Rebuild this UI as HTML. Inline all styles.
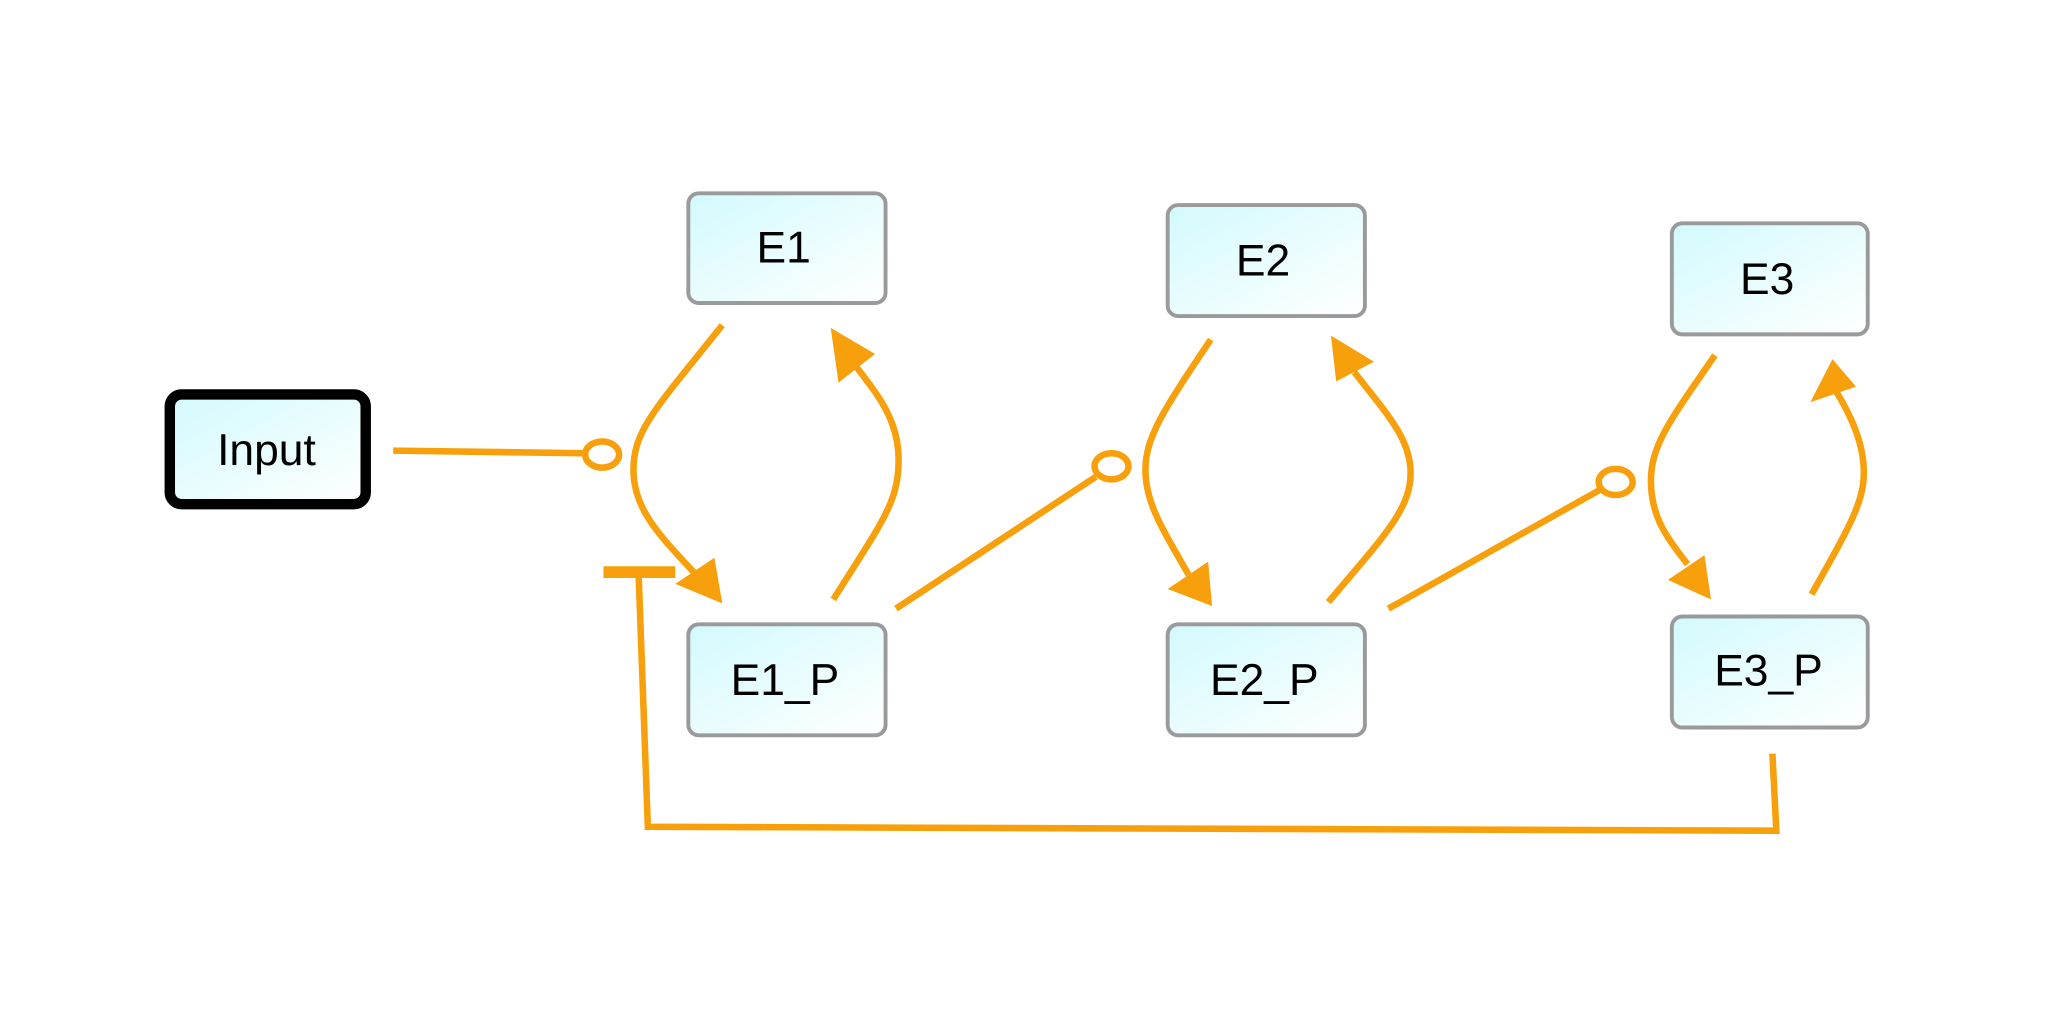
<!DOCTYPE html>
<html><head><meta charset="utf-8"><style>
html,body{margin:0;padding:0;background:#fff;}
svg{display:block;}
text{font-family:"Liberation Sans",sans-serif;font-size:34px;fill:#000;}
</style></head><body>
<svg width="2048" height="1024" viewBox="0 0 1568 784" xmlns="http://www.w3.org/2000/svg">
<defs>
<linearGradient id="g" x1="0" y1="0" x2="1" y2="1">
<stop offset="0" stop-color="#d2fafd"/><stop offset="1" stop-color="#ffffff"/>
</linearGradient>
</defs>
<rect width="1568" height="784" fill="#fff"/>
<g fill="url(#g)" stroke="#9a9a9a" stroke-width="3">
<rect x="527" y="148" width="151" height="84" rx="8"/>
<rect x="894" y="157" width="151" height="85" rx="8"/>
<rect x="1280" y="171" width="150" height="85" rx="8"/>
<rect x="527" y="478" width="151" height="85" rx="8"/>
<rect x="894" y="478" width="151" height="85" rx="8"/>
<rect x="1280" y="472" width="150" height="85" rx="8"/>
</g>
<rect x="130" y="302" width="150" height="84" rx="9" fill="url(#g)" stroke="#000" stroke-width="8"/>
<g text-anchor="middle">
<text x="204" y="356">Input</text>
<text x="600" y="201">E1</text>
<text x="967" y="211">E2</text>
<text x="1353" y="225">E3</text>
<text x="601" y="532">E1_P</text>
<text x="968" y="532">E2_P</text>
<text x="1354" y="525">E3_P</text>
</g>
<g fill="none" stroke="#f7a00c" stroke-width="5">
<path d="M301 345 L447 347"/>
<ellipse cx="461" cy="348" rx="13" ry="10"/>
<path d="M553 249 C500 315 485 330 485 360 C485 390 505 410 533 440"/>
<path d="M638 459 C675 400 688 385 688 352 C688 320 670 300 655 280"/>
<path d="M686 466 L839 365"/>
<ellipse cx="851" cy="357" rx="13" ry="10"/>
<path d="M927 260 C890 315 877 335 877 360 C877 385 890 405 910 440"/>
<path d="M1017 461 C1060 410 1080 390 1080 362 C1080 335 1060 315 1037 285"/>
<path d="M1063 466 L1225 375"/>
<ellipse cx="1237" cy="369" rx="13" ry="10"/>
<path d="M1313 272 C1280 320 1264 340 1264 368 C1264 395 1275 410 1292 432"/>
<path d="M1387 455 C1415 405 1427 385 1427 362 C1427 340 1418 320 1406 300"/>
<path d="M1357 577 L1360 636 L496 633 L489 441"/>
</g>
<path d="M462 438 L517 438" stroke="#f7a00c" stroke-width="9" fill="none"/>
<g fill="#f7a00c">
<polygon points="553,462 517,447 547,427"/>
<polygon points="636,251 670,271 642,293"/>
<polygon points="928,464 894,451 925,430"/>
<polygon points="1019,257 1052,277 1023,292"/>
<polygon points="1310,459 1277,444 1305,425"/>
<polygon points="1403,275 1421,296 1386,308"/>
</g>
</svg>
</body></html>
